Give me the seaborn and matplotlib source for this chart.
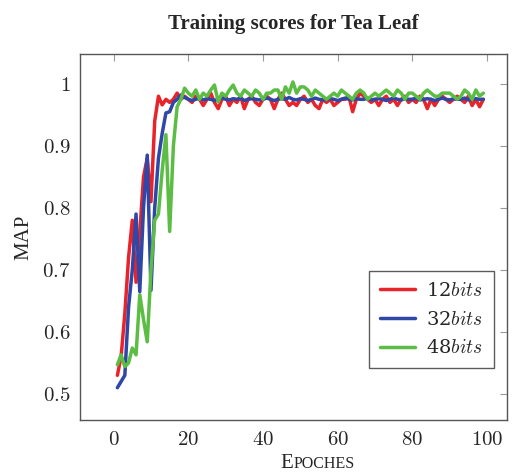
import numpy as np
import pandas as pd
import matplotlib
matplotlib.use("Agg")
import matplotlib.pyplot as plt
import seaborn as sns

sns.set_theme(style="white")
plt.rcParams['mathtext.fontset'] = 'cm'
plt.rcParams['font.family'] = ['DejaVu Serif']

# data (epochs 1..99)
epochs = list(range(1, 100))

map_12 = [0.53, 0.56, 0.63, 0.72, 0.78, 0.68, 0.76, 0.85, 0.88, 0.81,
          0.94, 0.98, 0.966, 0.975, 0.97, 0.975, 0.985, 0.975, 0.98, 0.975,
          0.97, 0.98, 0.975, 0.965, 0.975, 0.985, 0.97, 0.96, 0.975, 0.98,
          0.965, 0.975, 0.97, 0.98, 0.96, 0.975, 0.98, 0.97, 0.965, 0.975,
          0.98, 0.975, 0.96, 0.975, 0.985, 0.975, 0.965, 0.97, 0.965, 0.975,
          0.98, 0.97, 0.975, 0.965, 0.96, 0.975, 0.97, 0.975, 0.965, 0.97,
          0.975, 0.975, 0.98, 0.955, 0.975, 0.985, 0.98, 0.975, 0.97, 0.975,
          0.965, 0.975, 0.98, 0.97, 0.975, 0.965, 0.975, 0.98, 0.97, 0.975,
          0.97, 0.98, 0.975, 0.96, 0.975, 0.965, 0.975, 0.98, 0.975, 0.97,
          0.975, 0.98, 0.975, 0.97, 0.98, 0.965, 0.975, 0.963, 0.975]

map_32 = [0.51, 0.52, 0.53, 0.64, 0.70, 0.79, 0.665, 0.80, 0.885, 0.667,
          0.80, 0.88, 0.92, 0.953, 0.955, 0.97, 0.975, 0.982, 0.978, 0.975,
          0.973, 0.975, 0.977, 0.974, 0.976, 0.975, 0.973, 0.975, 0.977, 0.975,
          0.974, 0.976, 0.975, 0.977, 0.973, 0.975, 0.976, 0.975, 0.974, 0.975,
          0.977, 0.975, 0.973, 0.975, 0.976, 0.975, 0.978, 0.975, 0.974, 0.976,
          0.975, 0.973, 0.975, 0.977, 0.975, 0.974, 0.975, 0.976, 0.975, 0.973,
          0.975, 0.977, 0.975, 0.974, 0.976, 0.975, 0.975, 0.977, 0.974, 0.975,
          0.976, 0.975, 0.973, 0.975, 0.977, 0.975, 0.974, 0.976, 0.975, 0.975,
          0.977, 0.974, 0.975, 0.976, 0.975, 0.973, 0.975, 0.977, 0.975, 0.974,
          0.976, 0.975, 0.975, 0.977, 0.974, 0.975, 0.976, 0.975, 0.975]

map_48 = [0.547, 0.563, 0.544, 0.55, 0.574, 0.563, 0.66, 0.62, 0.584, 0.70,
          0.78, 0.79, 0.86, 0.918, 0.762, 0.90, 0.963, 0.975, 0.993, 0.985,
          0.98, 0.99, 0.975, 0.985, 0.98, 0.99, 0.998, 0.971, 0.985, 0.98,
          0.99, 0.998, 0.985, 0.98, 0.99, 0.985, 0.98, 0.99, 0.985, 0.975,
          0.985, 0.985, 0.99, 0.99, 0.975, 0.995, 0.985, 1.003, 0.985, 0.995,
          0.995, 0.99, 0.98, 0.99, 0.985, 0.98, 0.975, 0.98, 0.985, 0.98,
          0.99, 0.985, 0.98, 0.975, 0.985, 0.99, 0.985, 0.975, 0.98, 0.985,
          0.98, 0.985, 0.99, 0.985, 0.98, 0.99, 0.985, 0.975, 0.985, 0.985,
          0.98, 0.975, 0.985, 0.99, 0.985, 0.98, 0.98, 0.985, 0.985, 0.985,
          0.98, 0.975, 0.98, 0.99, 0.985, 0.975, 0.99, 0.98, 0.985]

series_names = ["12$bits$", "32$bits$", "48$bits$"]
colors = ["#e8232a", "#2f47a6", "#5cbd44"]

df = pd.DataFrame({"epoch": epochs * 3,
                   "MAP": map_12 + map_32 + map_48,
                   "bits": [series_names[0]] * len(map_12)
                           + [series_names[1]] * len(map_32)
                           + [series_names[2]] * len(map_48)})

fig = plt.figure(figsize=(5.13, 4.74), dpi=100)
ax = fig.add_axes([0.156, 0.114, 0.832, 0.772])

sns.lineplot(data=df, x="epoch", y="MAP", hue="bits", palette=colors,
             linewidth=2.5, ax=ax)

ax.set_xlim(-9, 105.3)
ax.set_ylim(0.458, 1.048)
ax.set_xticks([0, 20, 40, 60, 80, 100])
ax.set_yticks([0.5, 0.6, 0.7, 0.8, 0.9, 1.0])
ax.set_xticklabels([f"${t}$" for t in [0, 20, 40, 60, 80, 100]])
ax.set_yticklabels([f"${t:g}$" for t in [0.5, 0.6, 0.7, 0.8, 0.9, 1.0]])
ax.tick_params(direction="in", length=5, width=0.8, color="#999999",
               labelsize=15, top=True, right=True, pad=7)
for s in ax.spines.values():
    s.set_color("#555555")
    s.set_linewidth(1.0)

ax.set_xlabel("")
ax.set_ylabel("MAP", fontsize=15, family="Liberation Serif", labelpad=6)
# small caps x label
ax.text(0.5, -0.118, "E", transform=ax.transAxes, ha="right", va="center",
        fontsize=15, family="Liberation Serif")
ax.text(0.5, -0.121, "POCHES", transform=ax.transAxes, ha="left", va="center",
        fontsize=11.5, family="Liberation Serif")

ax.set_title("Training scores for Tea Leaf", fontsize=15, fontweight="bold",
             family="Liberation Serif", pad=18)

leg = ax.legend(loc="lower right", bbox_to_anchor=(0.97, 0.142), fontsize=14,
                frameon=True, fancybox=False, handlelength=1.8,
                borderpad=0.55, labelspacing=0.55, borderaxespad=0,
                handletextpad=0.6)
leg.get_frame().set_edgecolor("#333333")
leg.get_frame().set_linewidth(1.0)
for line in leg.get_lines():
    line.set_linewidth(2.5)

fig.savefig("out.png", dpi=100)
